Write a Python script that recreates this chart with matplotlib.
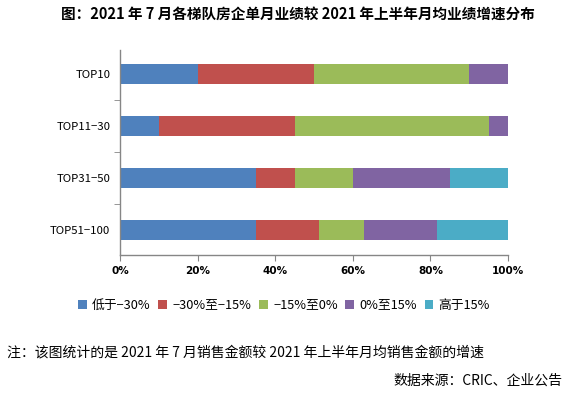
import matplotlib
matplotlib.use("Agg")
import matplotlib.pyplot as plt
import numpy as np

plt.rcParams['font.family'] = ['Noto Sans CJK SC', 'DejaVu Sans']

categories = ["TOP10", "TOP11−30", "TOP31−50", "TOP51−100"]
series_names = ["低于−30%", "−30%至−15%", "−15%至0%", "0%至15%", "高于15%"]
values = {
    "低于−30%":   [20, 10, 35, 35.0],
    "−30%至−15%": [30, 35, 10, 16.4],
    "−15%至0%":   [40, 50, 15, 11.6],
    "0%至15%":    [10, 5, 25, 18.6],
    "高于15%":    [0, 0, 15, 18.4],
}
colors = ["#4F81BD", "#C0504D", "#9BBB59", "#8064A2", "#4BACC6"]
xticks = [0, 20, 40, 60, 80, 100]
xticklabels = ["0%", "20%", "40%", "60%", "80%", "100%"]

title = "图：2021 年 7 月各梯队房企单月业绩较 2021 年上半年月均业绩增速分布"
note = "注：该图统计的是 2021 年 7 月销售金额较 2021 年上半年月均销售金额的增速"
source = "数据来源：CRIC、企业公告"

fig = plt.figure(figsize=(5.76, 3.96), dpi=100)
ax = fig.add_axes([120/576, 1-255/396, 388/576, (255-50)/396])

y = np.arange(len(categories))
left = np.zeros(len(categories))
for name, c in zip(series_names, colors):
    v = np.array(values[name], dtype=float)
    ax.barh(y, v, left=left, height=0.4, color=c, label=name, linewidth=0)
    left += v

ax.set_xlim(0, 100)
ax.set_ylim(3.48, -0.46)
spine_c = "#868686"
for s in ["top", "right"]:
    ax.spines[s].set_visible(False)
for s in ["left", "bottom"]:
    ax.spines[s].set_color(spine_c)
    ax.spines[s].set_linewidth(1.0)

ax.set_xticks(xticks)
ax.set_xticklabels(xticklabels, fontsize=7.5, fontweight="bold", family=["DejaVu Sans"])
ax.tick_params(axis="x", direction="out", length=4, color=spine_c, pad=4)

ax.set_yticks(y)
ax.set_yticklabels(categories, fontsize=8.2)
ax.set_yticks([0.5, 1.5, 2.5], minor=True)
ax.tick_params(axis="y", which="major", length=0, pad=7)
ax.tick_params(axis="y", which="minor", direction="out", length=4, color=spine_c)

fig.text(298/576, 1-14/396, title, ha="center", va="center", fontsize=10.5, fontweight="bold")

handles, labels = ax.get_legend_handles_labels()
fig.legend(handles, labels, loc="center", bbox_to_anchor=(284/576, 1-305/396), ncol=5,
           frameon=False, fontsize=9.2, handlelength=0.7, handleheight=0.7,
           handletextpad=0.4, columnspacing=0.6, borderaxespad=0)

fig.text(7/576, 1-352/396, note, ha="left", va="center", fontsize=10)
fig.text(562/576, 1-381/396, source, ha="right", va="center", fontsize=10)

fig.savefig("out.png", dpi=100)
